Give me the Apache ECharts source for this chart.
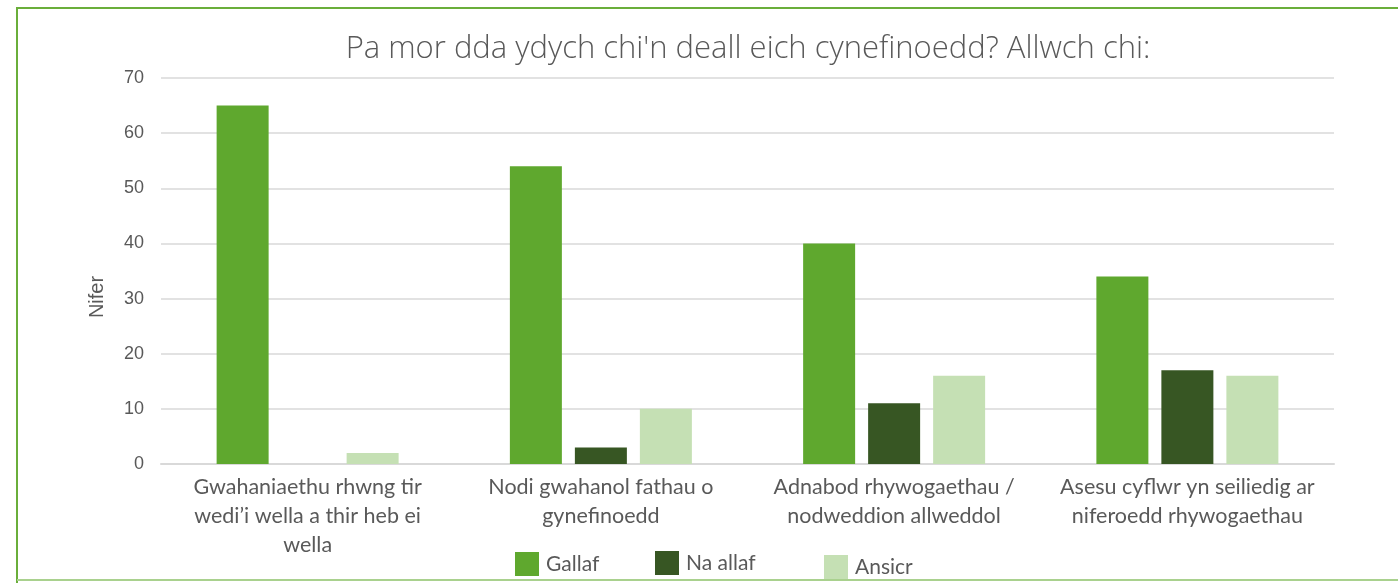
<!DOCTYPE html>
<html>
<head>
<meta charset="utf-8">
<script src="https://cdn.jsdelivr.net/npm/echarts@6/dist/echarts.min.js"></script>
<style>
  html, body { margin: 0; padding: 0; background: #fff; }
  #chart { width: 1398px; height: 583px; }
</style>
</head>
<body>
<div id="chart"></div>
<script>
const categories = [
  "Gwahaniaethu rhwng tir\nwedi’i wella a thir heb ei\nwella",
  "Nodi gwahanol fathau o\ngynefinoedd",
  "Adnabod rhywogaethau /\nnodweddion allweddol",
  "Asesu cyflwr yn seiliedig ar\nniferoedd rhywogaethau"
];
const gallaf = [65, 54, 40, 34];
const naAllaf = [0, 3, 11, 17];
const ansicr = [2, 10, 16, 16];
const yTicks = { min: 0, max: 70, interval: 10 };

const textColor = "#595959";
const font = "Lato";

const chart = echarts.init(document.getElementById("chart"));

function legendAt(name, left, top) {
  return {
    data: [name],
    left: left,
    top: top,
    padding: 0,
    itemWidth: 24,
    itemHeight: 24,
    icon: "rect",
    selectedMode: false,
    textStyle: { color: textColor, fontFamily: font, fontSize: 21, padding: [0, 0, 0, 2] }
  };
}

const option = {
  animation: false,
  backgroundColor: "#fff",
  title: {
    text: "Pa mor dda ydych chi'n deall eich cynefinoedd? Allwch chi:",
    left: 743,
    textAlign: "center",
    top: 29,
    textStyle: { color: textColor, fontFamily: "Open Sans", fontWeight: 300, fontSize: 31 }
  },
  graphic: [
    { type: "line", shape: { x1: 17, y1: 8, x2: 1398, y2: 8 }, style: { stroke: "#6aae3a", lineWidth: 2 } },
    { type: "line", shape: { x1: 17, y1: 7, x2: 17, y2: 583 }, style: { stroke: "#6aae3a", lineWidth: 2 } },
    { type: "line", shape: { x1: 17, y1: 580, x2: 1398, y2: 580 }, style: { stroke: "#a9d18e", lineWidth: 2 } }
  ],
  legend: [
    legendAt("Gallaf", 515, 552),
    legendAt("Na allaf", 655, 551),
    legendAt("Ansicr", 824, 555)
  ],
  grid: { left: 161, right: 64, top: 78, bottom: 119 },
  xAxis: {
    type: "category",
    data: categories,
    axisTick: { show: false },
    axisLine: { lineStyle: { color: "#d9d9d9", width: 2 } },
    axisLabel: {
      color: textColor,
      fontFamily: font,
      fontSize: 21.5,
      lineHeight: 29,
      margin: 9,
      interval: 0
    }
  },
  yAxis: {
    type: "value",
    min: yTicks.min,
    max: yTicks.max,
    interval: yTicks.interval,
    name: "Nifer",
    nameLocation: "middle",
    nameGap: 54,
    nameTextStyle: { color: textColor, fontFamily: "Liberation Sans", fontSize: 20, padding: [0, 52, 0, 0] },
    axisLine: { show: false },
    axisTick: { show: false },
    splitLine: { lineStyle: { color: "#d9d9d9", width: 1.5 } },
    axisLabel: { color: textColor, fontFamily: "Liberation Sans", fontSize: 18, margin: 17 }
  },
  series: [
    { name: "Gallaf", type: "bar", data: gallaf, barWidth: 52, barGap: "25%", itemStyle: { color: "#5fa82e" } },
    { name: "Na allaf", type: "bar", data: naAllaf, barWidth: 52, barGap: "25%", itemStyle: { color: "#375623" } },
    { name: "Ansicr", type: "bar", data: ansicr, barWidth: 52, barGap: "25%", itemStyle: { color: "#c5e0b4" } }
  ]
};

chart.setOption(option);
</script>
</body>
</html>
